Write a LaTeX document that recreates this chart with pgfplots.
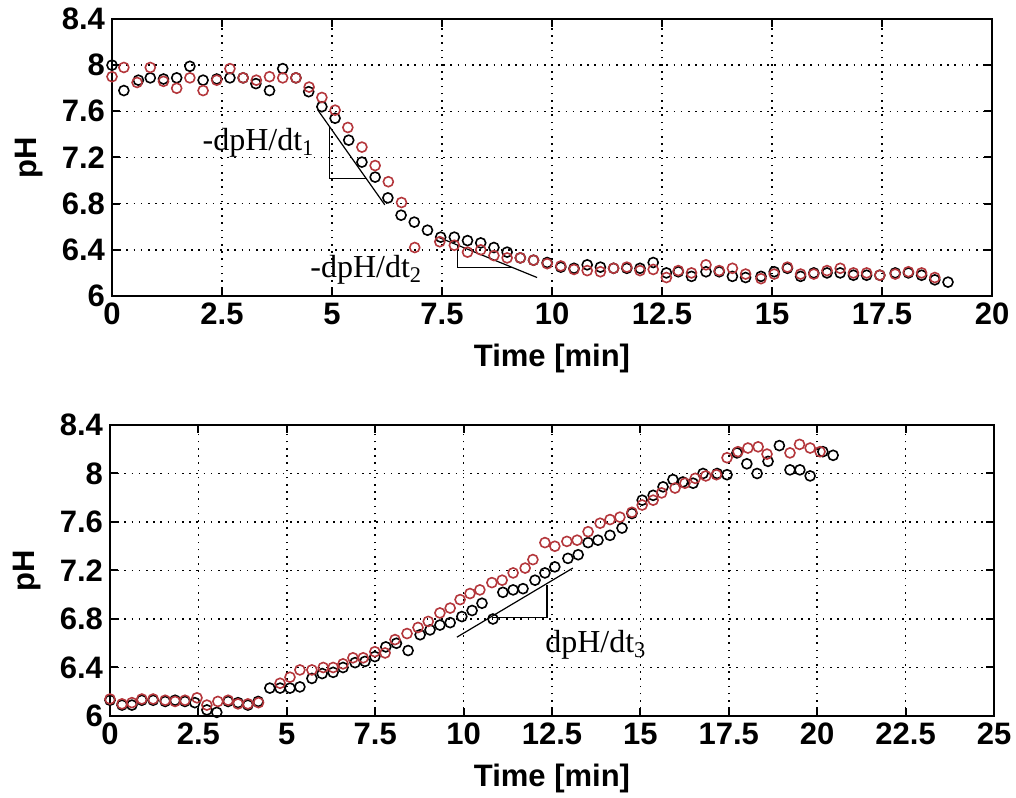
\documentclass[border=0pt]{standalone}
\usepackage{pgfplots}
\pgfplotsset{compat=1.18}
\usepackage{fontspec}
\setmainfont{Liberation Sans}
\newfontfamily\serifann{Liberation Serif}
\definecolor{myred}{RGB}{180,55,60}

\pgfplotstableread{
x y
0.00 8.00
0.27 7.78
0.60 7.87
0.87 7.89
1.17 7.88
1.47 7.89
1.77 7.99
2.07 7.87
2.38 7.88
2.68 7.89
2.98 7.89
3.27 7.84
3.58 7.78
3.88 7.97
4.18 7.89
4.47 7.77
4.77 7.64
5.07 7.54
5.38 7.35
5.68 7.16
5.98 7.03
6.27 6.85
6.57 6.70
6.87 6.64
7.17 6.57
7.47 6.51
7.78 6.51
8.08 6.48
8.38 6.46
8.68 6.42
8.98 6.38
9.28 6.33
9.58 6.31
9.89 6.29
10.20 6.25
10.50 6.24
10.80 6.27
11.10 6.25
11.40 6.24
11.70 6.24
12.00 6.24
12.30 6.29
12.60 6.20
12.87 6.21
13.17 6.17
13.50 6.21
13.80 6.21
14.10 6.17
14.40 6.16
14.75 6.17
15.05 6.21
15.35 6.24
15.65 6.17
15.95 6.20
16.25 6.20
16.55 6.20
16.85 6.18
17.15 6.18
17.45 6.18
17.80 6.20
18.10 6.20
18.40 6.18
18.70 6.14
19.00 6.12
}\topblack

\pgfplotstableread{
x y
0.00 7.90
0.27 7.98
0.57 7.85
0.87 7.98
1.17 7.86
1.47 7.80
1.77 7.89
2.07 7.78
2.38 7.87
2.68 7.97
2.98 7.89
3.28 7.87
3.58 7.90
3.88 7.89
4.18 7.89
4.48 7.81
4.77 7.72
5.07 7.61
5.36 7.46
5.68 7.29
5.98 7.13
6.28 6.99
6.58 6.81
6.88 6.42
7.45 6.47
7.78 6.44
8.08 6.38
8.38 6.40
8.68 6.35
8.98 6.33
9.28 6.33
9.58 6.31
9.89 6.28
10.20 6.26
10.50 6.23
10.80 6.22
11.10 6.21
11.40 6.24
11.70 6.25
12.00 6.22
12.30 6.23
12.60 6.16
12.87 6.22
13.17 6.20
13.50 6.27
13.80 6.22
14.10 6.24
14.40 6.19
14.75 6.15
15.05 6.19
15.35 6.25
15.65 6.19
15.95 6.19
16.25 6.22
16.55 6.24
16.85 6.20
17.15 6.20
17.45 6.18
17.80 6.19
18.10 6.21
18.40 6.20
18.70 6.16
}\topred

\pgfplotstableread{
x y
0.00 6.13
0.34 6.09
0.62 6.09
0.90 6.13
1.22 6.13
1.56 6.12
1.84 6.13
2.12 6.12
2.40 6.11
2.74 6.05
3.02 6.03
3.34 6.12
3.62 6.11
3.90 6.09
4.19 6.12
4.52 6.23
4.81 6.23
5.09 6.23
5.37 6.24
5.71 6.31
6.00 6.35
6.31 6.36
6.59 6.40
6.93 6.44
7.21 6.45
7.49 6.49
7.80 6.57
8.10 6.60
8.43 6.54
8.77 6.67
9.05 6.71
9.33 6.75
9.62 6.77
9.95 6.82
10.24 6.87
10.52 6.93
10.83 6.80
11.11 7.02
11.40 7.04
11.68 7.05
12.02 7.12
12.30 7.18
12.58 7.23
12.95 7.30
13.24 7.33
13.52 7.43
13.80 7.45
14.14 7.49
14.48 7.55
14.76 7.67
15.05 7.78
15.36 7.82
15.64 7.89
15.92 7.95
16.20 7.93
16.49 7.92
16.77 8.00
17.17 8.00
17.45 7.99
17.73 8.17
18.01 8.08
18.30 8.00
18.61 8.10
18.93 8.23
19.23 8.03
19.51 8.03
19.80 7.98
20.16 8.18
20.45 8.15
}\botblack

\pgfplotstableread{
x y
0.00 6.14
0.34 6.10
0.62 6.11
0.90 6.14
1.22 6.14
1.56 6.13
1.84 6.12
2.12 6.13
2.46 6.15
2.74 6.09
3.05 6.12
3.34 6.13
3.62 6.10
3.90 6.10
4.20 6.11
4.81 6.27
5.09 6.32
5.37 6.38
5.71 6.38
6.03 6.40
6.31 6.40
6.59 6.43
6.87 6.48
7.16 6.48
7.49 6.53
7.78 6.52
8.06 6.63
8.40 6.68
8.71 6.73
9.00 6.78
9.33 6.85
9.62 6.89
9.90 6.96
10.18 7.01
10.46 7.04
10.80 7.10
11.09 7.12
11.40 7.18
11.74 7.22
11.96 7.29
12.30 7.43
12.58 7.40
12.92 7.44
13.21 7.45
13.52 7.52
13.86 7.59
14.14 7.62
14.42 7.64
14.76 7.68
15.05 7.74
15.36 7.78
15.60 7.84
15.98 7.88
16.26 7.92
16.55 7.96
16.85 7.98
17.15 7.99
17.45 8.13
17.76 8.18
18.04 8.21
18.33 8.22
18.58 8.16
19.23 8.17
19.50 8.24
19.80 8.21
20.08 8.18
}\botred

\pgfplotsset{
  phstyle/.style={
    scale only axis,
    anchor=south west,
    axis line style={line width=1.2pt},
    tick style={line width=1pt, black},
    major tick length=4pt,
    tick align=inside,
    grid=major,
    major grid style={black, line width=0.8pt, dash pattern=on 0.8pt off 2.8pt},
    ymin=6, ymax=8.4,
    ytick={6,6.4,6.8,7.2,7.6,8,8.4},
    /pgf/number format/assume math mode=true,
    ticklabel style={font=\fontsize{15.5}{18}\selectfont\bfseries},
    xlabel={Time [min]},
    ylabel={pH},
    xlabel style={font=\fontsize{15.5}{18}\selectfont\bfseries, at={(axis description cs:0.5,0)}, anchor=center, yshift=-31pt},
    ylabel style={font=\fontsize{15.5}{18}\selectfont\bfseries, at={(axis description cs:0,0.5)}, anchor=center, yshift=41.5pt},
    clip=false,
  },
  blk/.style={only marks, mark=o, mark size=2.5pt, black, mark options={line width=0.8pt}},
  rd/.style={only marks, mark=o, mark size=2.5pt, myred, mark options={line width=0.8pt}},
}

\begin{document}
\begin{tikzpicture}
\path[use as bounding box] (0,0) rectangle (508pt,398.5pt);

\begin{axis}[phstyle,
  at={(56pt,250.5pt)}, width=440pt, height=138.5pt,
  xmin=0, xmax=20,
  xtick={0,2.5,5,7.5,10,12.5,15,17.5,20},
]
\addplot[blk] table {\topblack};
\addplot[rd] table {\topred};
\draw[line width=0.6pt] (axis cs:4.68,7.61) -- (axis cs:6.2,6.79);
\draw[line width=0.6pt] (axis cs:4.95,7.46) -- (axis cs:4.95,7.02) -- (axis cs:5.77,7.02);
\draw[line width=0.6pt] (axis cs:7.41,6.51) -- (axis cs:9.66,6.16);
\draw[line width=0.6pt] (axis cs:7.86,6.44) -- (axis cs:7.86,6.25) -- (axis cs:9.11,6.25);
\node[anchor=east, inner sep=0pt, font=\serifann\fontsize{16}{18}\selectfont] at (axis cs:4.61,7.33) {-dpH/dt\textsubscript{1}};
\node[anchor=west, inner sep=0pt, font=\serifann\fontsize{16}{18}\selectfont] at (axis cs:4.5,6.225) {-dpH/dt\textsubscript{2}};
\end{axis}

\begin{axis}[phstyle,
  at={(55pt,40.5pt)}, width=442pt, height=145.5pt,
  xmin=0, xmax=25,
  xtick={0,2.5,5,7.5,10,12.5,15,17.5,20,22.5,25},
]
\addplot[blk] table {\botblack};
\addplot[rd] table {\botred};
\draw[line width=0.6pt] (axis cs:9.81,6.65) -- (axis cs:13.09,7.22);
\draw[line width=0.6pt] (axis cs:10.8,6.81) -- (axis cs:12.36,6.81) -- (axis cs:12.36,7.08);
\node[anchor=west, inner sep=0pt, font=\serifann\fontsize{16}{18}\selectfont] at (axis cs:12.3,6.59) {dpH/dt\textsubscript{3}};
\end{axis}
\end{tikzpicture}
\end{document}
